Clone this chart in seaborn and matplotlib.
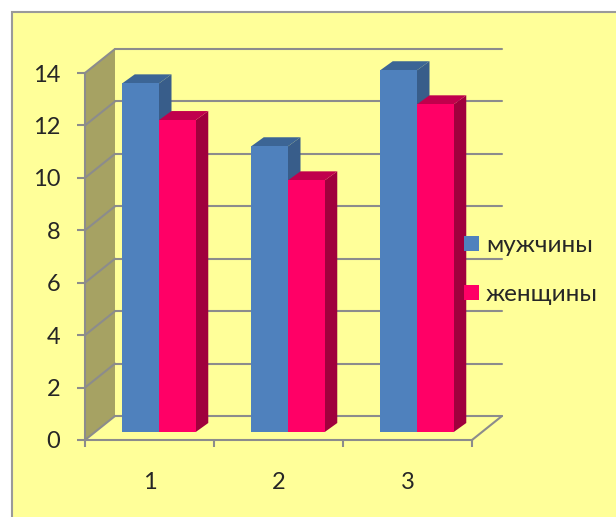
import numpy as np
import pandas as pd
import seaborn as sns
import matplotlib
matplotlib.use("Agg")
import matplotlib.pyplot as plt
from matplotlib.patches import Rectangle, Polygon
from matplotlib.lines import Line2D
from matplotlib.transforms import IdentityTransform

# ---- data ----
categories = ["1", "2", "3"]
series_names = ["мужчины", "женщины"]
men = [13.3, 10.9, 13.8]
women = [11.9, 9.6, 12.5]
y_ticks = [0, 2, 4, 6, 8, 10, 12, 14]

df = pd.DataFrame({
    "cat": categories * 2,
    "val": men + women,
    "sex": [series_names[0]] * 3 + [series_names[1]] * 3,
})

# ---- style ----
sns.set_style("white")
plt.rcParams["font.family"] = ["Lato", "DejaVu Sans"]
FS = 17
LFS = 17.5
BG = "#FFFF99"
GRID = "#8C8C8C"
WALL = "#A6A263"
front_cols = ["#4F81BD", "#FF0066"]
side_cols = ["#385D8A", "#A0003D"]
top_cols = ["#3C6595", "#C0004C"]

W, H = 616, 517
fig = plt.figure(figsize=(W / 100, H / 100), dpi=100)
fig.patch.set_facecolor("white")
fig.add_artist(Rectangle((12 / W, -0.1), 1.2, (H - 12) / H + 0.1,
                         transform=fig.transFigure, facecolor=BG,
                         edgecolor="#9A9A9A", lw=1.5, zorder=-5))

# front plane axes (axis, ticks, labels) and bar plane axes
pw, ph = 387, 367
ax_f = fig.add_axes([85 / W, 77 / H, pw / W, ph / H])
ax_b = fig.add_axes([94.5 / W, 85 / H, pw / W, ph / H])
for a in (ax_f, ax_b):
    a.set_facecolor("none")
ax_f.set_zorder(1)
ax_b.set_zorder(2)

sns.barplot(data=df, x="cat", y="val", hue="sex", palette=front_cols,
            width=0.57, saturation=1, ax=ax_b, order=categories,
            hue_order=series_names, linewidth=0)

for a in (ax_f, ax_b):
    a.set_xlim(-0.5, 2.5)
    a.set_ylim(0, 14)

# ---- front axes styling ----
ax_f.set_yticks(y_ticks)
ax_f.set_xticks([0, 1, 2])
ax_f.set_xticklabels(categories)
ax_f.set_xticks([-0.5, 0.5, 1.5, 2.5], minor=True)
ax_f.tick_params(axis="y", direction="out", length=5.8, width=1.5, color=GRID,
                 labelsize=FS, pad=12, left=True)
ax_f.tick_params(axis="x", which="major", length=0, labelsize=FS, pad=23, bottom=True)
ax_f.tick_params(axis="x", which="minor", direction="out", length=5, width=1.5,
                 color=GRID, bottom=True)
for s in ["top", "right"]:
    ax_f.spines[s].set_visible(False)
for s in ["left", "bottom"]:
    ax_f.spines[s].set_color(GRID)
    ax_f.spines[s].set_linewidth(1.5)

# ---- 3D frame (walls, floor, gridlines) ----
BACK = np.array([30.0, 24.0])
ID = IdentityTransform()


def fp(x, y, off=(0.0, 0.0)):
    return ax_f.transData.transform((x, y)) + np.asarray(off)


def add(ax, art):
    ax.add_artist(art)
    art.set_clip_on(False)
    art.set_clip_path(None)


x0, x1 = ax_f.get_xlim()
y0, y1 = ax_f.get_ylim()
add(ax_f, Polygon([fp(x0, y0), fp(x0, y0, BACK), fp(x0, y1, BACK), fp(x0, y1)],
                  closed=True, transform=ID, facecolor=WALL, edgecolor="none", zorder=0))
for v in y_ticks:
    a, b = fp(x0, v, BACK), fp(x1, v, BACK)
    add(ax_f, Line2D([a[0], b[0]], [a[1], b[1]], transform=ID, color=GRID, lw=1.5, zorder=1))
    c = fp(x0, v)
    add(ax_f, Line2D([c[0], a[0]], [c[1], a[1]], transform=ID, color=GRID, lw=1.5, zorder=1))
c, a = fp(x1, y0), fp(x1, y0, BACK)
add(ax_f, Line2D([c[0], a[0]], [c[1], a[1]], transform=ID, color=GRID, lw=1.5, zorder=1))

# ---- 3D bar faces ----
DEPTH = np.array([12.5, 9.0])
bars = [p for p in ax_b.patches if isinstance(p, Rectangle) and p.get_height() > 0]
bars.sort(key=lambda p: p.get_x())
for p in bars:
    p.set_clip_on(False)
    fc = matplotlib.colors.to_hex(p.get_facecolor())
    k = 0 if fc.lower() == front_cols[0].lower() else 1
    bx, bw, bh = p.get_x(), p.get_width(), p.get_height()
    tl = ax_b.transData.transform((bx, bh))
    tr = ax_b.transData.transform((bx + bw, bh))
    br = ax_b.transData.transform((bx + bw, 0))
    add(ax_b, Polygon([br, br + DEPTH, tr + DEPTH, tr], closed=True, transform=ID,
                      facecolor=side_cols[k], edgecolor="none", zorder=0.5))
    add(ax_b, Polygon([tl, tr, tr + DEPTH, tl + DEPTH], closed=True, transform=ID,
                      facecolor=top_cols[k], edgecolor="none", zorder=0.5))

ax_b.axis("off")

# ---- legend ----
old = ax_b.get_legend()
handles = old.legend_handles
labels = [t.get_text() for t in old.get_texts()]
old.remove()
ax_b.legend(handles, labels, loc="upper left", bbox_to_anchor=(464 / W, 1 - 235 / H),
            bbox_transform=fig.transFigure, frameon=False, fontsize=LFS,
            handlelength=0.6, handleheight=0.6, handletextpad=0.3,
            labelspacing=1.15, borderpad=0, borderaxespad=0)

fig.savefig("out.png", dpi=100, facecolor=fig.get_facecolor())
